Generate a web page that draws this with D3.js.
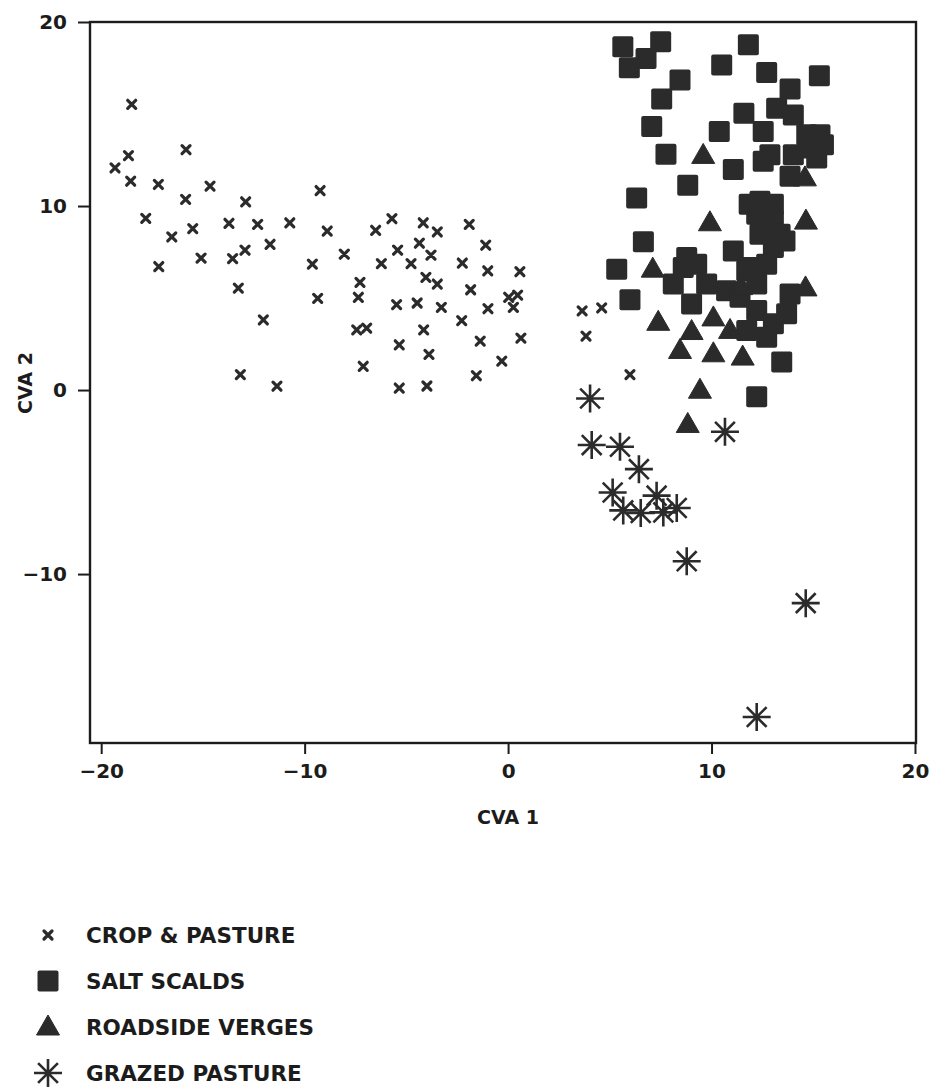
<!DOCTYPE html>
<html>
<head>
<meta charset="utf-8">
<script src="https://cdn.jsdelivr.net/npm/d3@7.9.0/dist/d3.min.js"></script>
<style>
  body { margin: 0; background: #fff; }
  svg { display: block; }
  text { font-family: "DejaVu Sans", "Liberation Sans", Arial, sans-serif; font-weight: bold; fill: #1c1c1c; }
</style>
</head>
<body>
<svg id="chart" width="930" height="1089"></svg>
<script>
// CVA scores
const cropX = [-18.50, -18.66, -19.32, -18.55, -17.19, -15.83, -15.85, -14.65, -17.81, -16.53, -15.50, -17.17,
  -15.09, -13.72, -12.90, -12.31, -11.70, -10.73, -13.54, -12.93, -13.26, -12.03, -13.16, -11.36,
  -9.24, -8.89, -6.51, -5.71, -4.17, -3.48, -1.91, -8.05, -9.62, -5.43, -4.36, -3.79,
  -6.23, -4.77, -2.25, -1.10, -1.00, 0.58, -7.28, -9.36, -7.36, -4.04, -3.48, -1.84,
  -5.48, -4.47, -3.28, -0.99, 0.03, 0.47, 0.26, -2.28, -7.44, -6.95, -4.15, -5.35,
  -3.89, -1.37, 0.63, -7.12, -0.31, -1.56, -5.35, -3.99, 3.64, 4.60, 3.83, 5.99];
const cropY = [15.53, 12.74, 12.07, 11.35, 11.17, 13.06, 10.36, 11.08, 9.33, 8.32, 8.77, 6.71,
  7.17, 9.06, 10.23, 9.00, 7.92, 9.09, 7.14, 7.60, 5.54, 3.81, 0.84, 0.21,
  10.84, 8.64, 8.68, 9.31, 9.09, 8.59, 9.00, 7.38, 6.84, 7.60, 7.98, 7.33,
  6.87, 6.87, 6.90, 7.87, 6.48, 6.43, 5.85, 4.98, 5.04, 6.12, 5.76, 5.45,
  4.64, 4.73, 4.49, 4.42, 5.04, 5.16, 4.49, 3.77, 3.27, 3.36, 3.27, 2.46,
  1.94, 2.66, 2.82, 1.29, 1.57, 0.78, 0.11, 0.22, 4.30, 4.46, 2.93, 0.84];

const saltX = [5.64, 7.50, 6.78, 5.96, 11.81, 10.50, 8.45, 12.71, 15.30, 7.55, 13.86, 11.59,
  7.06, 10.38, 7.76, 11.07, 8.83, 6.32, 13.20, 14.02, 12.54, 14.68, 15.33, 12.87,
  15.17, 14.02, 12.54, 13.86, 14.84, 15.50, 12.38, 13.04, 12.22, 13.04, 12.38, 13.37,
  13.04, 13.61, 6.65, 11.07, 5.34, 8.78, 9.27, 11.89, 12.71, 8.12, 9.76, 10.74,
  12.22, 13.86, 5.99, 8.61, 9.02, 11.40, 11.73, 12.22, 13.04, 13.69, 12.71, 11.73,
  13.45, 12.22, 11.85];
const saltY = [18.65, 18.92, 18.01, 17.51, 18.77, 17.66, 16.85, 17.26, 17.08, 15.82, 16.36, 15.04,
  14.32, 14.05, 12.82, 11.98, 11.13, 10.44, 15.31, 14.95, 14.05, 13.87, 13.87, 12.79,
  12.61, 12.79, 12.43, 11.62, 13.15, 13.33, 10.26, 10.09, 9.55, 9.18, 8.46, 8.46,
  7.74, 8.10, 8.06, 7.56, 6.57, 7.20, 6.84, 6.66, 6.84, 5.76, 5.76, 5.40,
  5.76, 5.22, 4.90, 6.66, 4.68, 5.04, 6.48, 4.32, 3.60, 4.14, 2.87, 3.24,
  1.52, -0.37, 10.10];

const roadX = [9.59, 14.59, 9.92, 14.64, 7.11, 14.62, 11.45, 10.91, 10.09, 7.38, 9.02, 8.45,
  10.09, 11.53, 9.43, 8.83];
const roadY = [12.75, 11.53, 9.09, 9.18, 6.57, 5.55, 5.62, 3.24, 3.92, 3.68, 3.18, 2.15,
  1.97, 1.79, -0.01, -1.87];

const grazX = [4.03, 10.66, 4.11, 5.50, 6.43, 5.14, 7.30, 5.66, 6.52, 7.63, 8.29, 8.78, 14.63, 12.22];
const grazY = [-0.46, -2.27, -2.99, -3.08, -4.30, -5.57, -5.74, -6.54, -6.68, -6.65, -6.41, -9.30, -11.58, -17.77];

const xTicks = [-20, -10, 0, 10, 20];
const yTicks = [-10, 0, 10, 20];
const legendLabels = ["CROP & PASTURE", "SALT SCALDS", "ROADSIDE VERGES", "GRAZED PASTURE"];

const ink = "#2b2b2b";
const svg = d3.select("#chart");

const x = d3.scaleLinear().domain([-20.55, 20.05]).range([90, 916]);
const y = d3.scaleLinear().domain([-19.18, 20]).range([743, 22]);

// marker drawers
const markers = {
  cross: g => g.append("path").attr("d", "M-4,-4L4,4M-4,4L4,-4")
    .attr("stroke", ink).attr("stroke-width", 3.2).attr("stroke-linecap", "round").attr("fill", "none"),
  square: g => g.append("rect").attr("x", -10.5).attr("y", -10.5).attr("width", 21).attr("height", 21)
    .attr("rx", 2).attr("fill", ink),
  triangle: g => g.append("path").attr("d", "M0,-12L11.5,8L-11.5,8Z").attr("fill", ink)
    .attr("stroke", ink).attr("stroke-width", 1).attr("stroke-linejoin", "round"),
  star: g => g.append("path")
    .attr("d", d3.range(4).map(i => {
      const a = i * Math.PI / 4, r = 14;
      return `M${-r * Math.cos(a)},${-r * Math.sin(a)}L${r * Math.cos(a)},${r * Math.sin(a)}`;
    }).join(""))
    .attr("stroke", ink).attr("stroke-width", 2.6).attr("fill", "none")
};

function drawSeries(xs, ys, kind) {
  const pts = xs.map((v, i) => [v, ys[i]]);
  svg.append("g").selectAll("g").data(pts).join("g")
    .attr("transform", d => `translate(${x(d[0])},${y(d[1])})`)
    .each(function () { markers[kind](d3.select(this)); });
}

drawSeries(saltX, saltY, "square");
drawSeries(roadX, roadY, "triangle");
drawSeries(grazX, grazY, "star");
drawSeries(cropX, cropY, "cross");

// frame
svg.append("rect")
  .attr("x", x.range()[0]).attr("y", y.range()[1])
  .attr("width", x.range()[1] - x.range()[0]).attr("height", y.range()[0] - y.range()[1])
  .attr("fill", "none").attr("stroke", "#1c1c1c").attr("stroke-width", 2.4);

const fmt = d3.format("d");

const xAxis = svg.append("g")
  .attr("transform", `translate(0,${y.range()[0]})`)
  .call(d3.axisBottom(x).tickValues(xTicks).tickSize(11).tickPadding(10).tickFormat(fmt));
const yAxis = svg.append("g")
  .attr("transform", `translate(${x.range()[0]},0)`)
  .call(d3.axisLeft(y).tickValues(yTicks).tickSize(12).tickPadding(11).tickFormat(fmt));

[xAxis, yAxis].forEach(a => {
  a.select(".domain").remove();
  a.selectAll(".tick line").attr("stroke", "#1c1c1c").attr("stroke-width", 2);
  a.selectAll(".tick text").attr("font-size", 20)
    .style("font-family", "'DejaVu Sans', 'Liberation Sans', Arial, sans-serif")
    .style("font-weight", "bold").attr("fill", "#1c1c1c");
});

svg.append("text").attr("x", 508).attr("y", 824).attr("text-anchor", "middle")
  .attr("font-size", 19).text("CVA 1");
svg.append("text").attr("transform", "translate(32,383) rotate(-90)").attr("text-anchor", "middle")
  .attr("font-size", 19).text("CVA 2");

// legend
const kinds = ["cross", "square", "triangle", "star"];
const legend = svg.append("g");
legendLabels.forEach((label, i) => {
  const row = legend.append("g").attr("transform", `translate(0,${935 + i * 46})`);
  markers[kinds[i]](row.append("g").attr("transform", "translate(48,0)"));
  row.append("text").attr("x", 86).attr("y", 0).attr("dy", "0.36em")
    .attr("font-size", 21.5).text(label);
});
</script>
</body>
</html>
